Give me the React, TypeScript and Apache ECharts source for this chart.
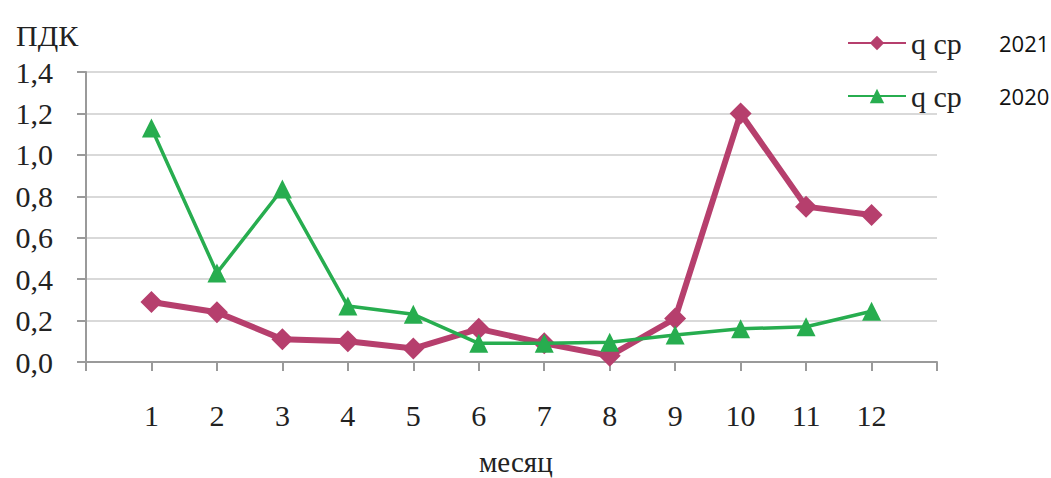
import React, { useEffect, useRef } from "react";
import * as echarts from "echarts";

const months = [1, 2, 3, 4, 5, 6, 7, 8, 9, 10, 11, 12];
const q2021 = [0.29, 0.24, 0.11, 0.1, 0.065, 0.16, 0.09, 0.03, 0.21, 1.2, 0.75, 0.71];
const q2020 = [1.13, 0.43, 0.835, 0.27, 0.23, 0.09, 0.09, 0.095, 0.13, 0.16, 0.17, 0.245];
const seriesNames = ["2021", "2020"];
const yTicks = [0, 0.2, 0.4, 0.6, 0.8, 1.0, 1.2, 1.4];

const serif = "Liberation Serif, Times New Roman, serif";

export default function App() {
  const ref = useRef<HTMLDivElement>(null);
  useEffect(() => {
    const chart = echarts.init(ref.current!, null, { renderer: "svg" });
    chart.setOption({
      animation: false,
      backgroundColor: "#ffffff",
      textStyle: { fontFamily: serif },
      grid: { left: 86, right: 114, top: 72, bottom: 116, containLabel: false },
      title: [
        { text: "ПДК", left: 11, top: 15, textStyle: { fontFamily: serif, fontSize: 30, fontWeight: "normal", color: "#222" } },
        { text: "месяц", left: 474, top: 442, textStyle: { fontFamily: serif, fontSize: 29, fontWeight: "normal", color: "#222" } },
      ],
      legend: {
        orient: "vertical",
        left: 842,
        top: 23,
        itemWidth: 58,
        itemHeight: 18,
        itemGap: 23,
        data: seriesNames,
        formatter: (name: string) => `{a|q cp}{b|${name}}`,
        textStyle: {
          fontFamily: serif,
          rich: {
            a: { fontFamily: serif, fontSize: 30, lineHeight: 30, color: "#222", width: 88 },
            b: { fontFamily: "Open Sans", fontSize: 22, lineHeight: 30, color: "#111" },
          },
        },
      },
      xAxis: {
        type: "value",
        min: 0,
        max: 13,
        interval: 1,
        axisLine: { show: true, lineStyle: { color: "#9a9a9a", width: 2 } },
        axisTick: { show: true, length: 9, lineStyle: { color: "#9a9a9a", width: 2 } },
        splitLine: { show: false },
        axisLabel: {
          margin: 38,
          fontFamily: serif,
          fontSize: 30,
          color: "#222",
          formatter: (v: number) => (v >= 1 && v <= 12 ? String(v) : ""),
        },
      },
      yAxis: {
        type: "value",
        min: 0,
        max: 1.4,
        interval: 0.2,
        axisLine: { show: true, lineStyle: { color: "#9a9a9a", width: 2 } },
        axisTick: { show: true, length: 9, lineStyle: { color: "#9a9a9a", width: 2 } },
        splitLine: { show: true, lineStyle: { color: "#d9d9d9", width: 2 } },
        axisLabel: {
          margin: 33,
          fontFamily: serif,
          fontSize: 30,
          color: "#222",
          formatter: (v: number) => {
            const t = yTicks.find((x) => Math.abs(x - v) < 1e-6);
            return (t ?? v).toFixed(1).replace(".", ",");
          },
        },
      },
      series: [
        {
          name: seriesNames[0],
          type: "line",
          data: months.map((m, i) => [m, q2021[i]]),
          symbol: "diamond",
          symbolSize: 22,
          lineStyle: { color: "#b63f6d", width: 6 },
          itemStyle: { color: "#b63f6d" },
          z: 3,
        },
        {
          name: seriesNames[1],
          type: "line",
          data: months.map((m, i) => [m, q2020[i]]),
          symbol: "triangle",
          symbolSize: 19,
          lineStyle: { color: "#27ad4f", width: 3.5 },
          itemStyle: { color: "#27ad4f" },
          z: 4,
        },
      ],
    });
    return () => chart.dispose();
  }, []);
  return <div ref={ref} style={{ width: 1051, height: 478, position: "absolute", left: 0, top: 0 }} />;
}
